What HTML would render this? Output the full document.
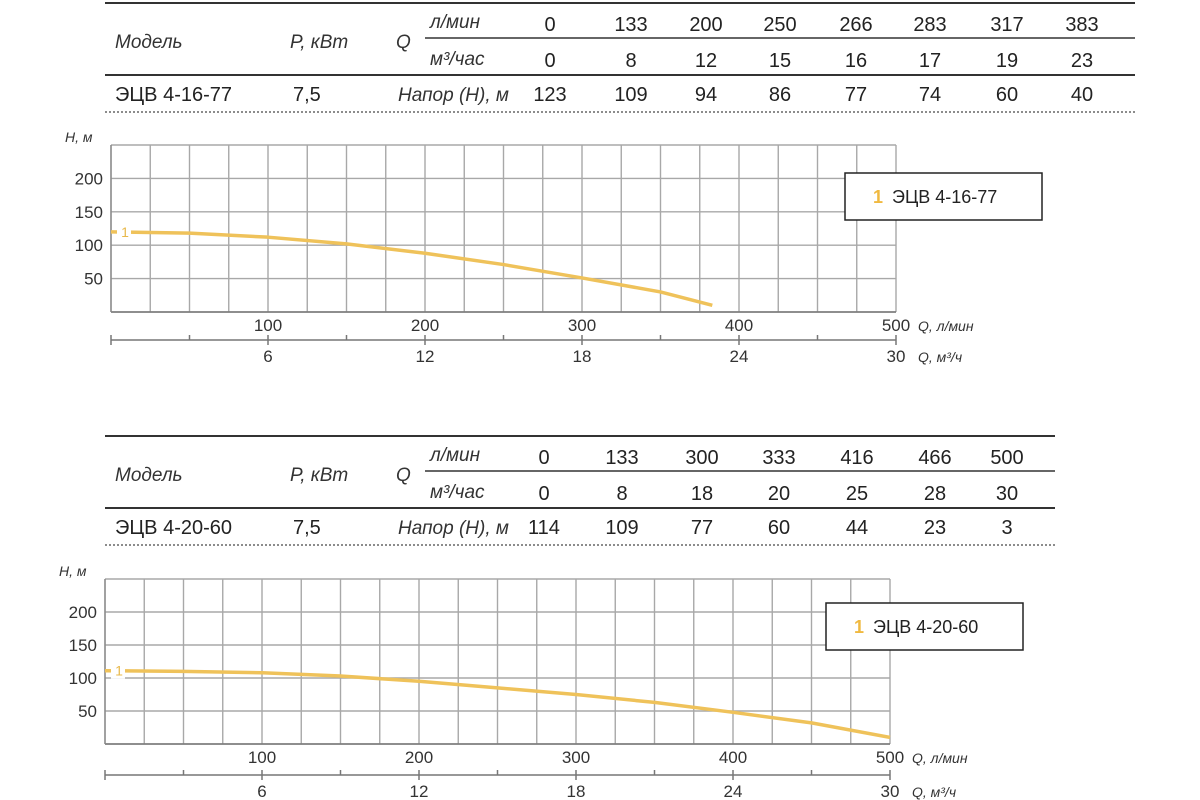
<!DOCTYPE html>
<html><head><meta charset="utf-8"><style>
body{margin:0;width:1200px;height:800px;background:#fff;overflow:hidden;font-family:"Liberation Sans","DejaVu Sans",sans-serif;color:#222}
svg{position:absolute;left:0;top:0}
</style></head><body>
<svg id="s" width="1200" height="800" font-family="Liberation Sans, DejaVu Sans, sans-serif"></svg>
<script>
const t1_lpm=["0","133","200","250","266","283","317","383"];
const t1_m3=["0","8","12","15","16","17","19","23"];
const t1_head=["123","109","94","86","77","74","60","40"];
const t2_lpm=["0","133","300","333","416","466","500"];
const t2_m3=["0","8","18","20","25","28","30"];
const t2_head=["114","109","77","60","44","23","3"];
const c1_q=[0,50,100,150,200,250,300,350,383];
const c1_h=[120,118,112,102,88,71,51,30,10];
const c2_q=[0,50,100,150,200,250,300,350,400,450,500];
const c2_h=[111,110,108,103,95,85,75,63,48,32,10];
const yTicks=[50,100,150,200];
const xLpmTicks=[100,200,300,400,500];
const xM3Ticks=[6,12,18,24,30];
const NS="http://www.w3.org/2000/svg";
const svg=document.getElementById('s');
function el(tag,attrs,parent,txt){const e=document.createElementNS(NS,tag);for(const k in attrs)e.setAttribute(k,attrs[k]);if(txt!==undefined)e.textContent=txt;(parent||svg).appendChild(e);return e;}
function table(y0,lpm,m3,head,xs,right,model,idx){
  const g=el('g',{});
  
  
  el('line',{x1:105,x2:right,y1:y0,y2:y0,stroke:'#333','stroke-width':2},g);
  el('line',{x1:425,x2:right,y1:y0+35,y2:y0+35,stroke:'#333','stroke-width':1.5},g);
  el('line',{x1:105,x2:right,y1:y0+72,y2:y0+72,stroke:'#333','stroke-width':2},g);
  el('line',{x1:105,x2:right,y1:y0+109,y2:y0+109,stroke:'#666','stroke-width':1.5,'stroke-dasharray':'2,2'},g);
  const it={'font-style':'italic','font-size':19,fill:'#333'};
  el('text',Object.assign({x:115,y:y0+45},it),g,'Модель');
  el('text',Object.assign({x:290,y:y0+45},it),g,'P, кВт');
  el('text',Object.assign({x:396,y:y0+45},it),g,'Q');
  el('text',Object.assign({x:430,y:y0+25,'font-size':17},it),g,'л/мин');
  el('text',Object.assign({x:430,y:y0+62,'font-size':17},it),g,'м³/час');
  el('text',{x:115,y:y0+98,'font-size':20,fill:'#222'},g,model);
  el('text',{x:293,y:y0+98,'font-size':20,fill:'#222'},g,'7,5');
  el('text',Object.assign({x:398,y:y0+98,'font-size':18},it),g,'Напор (Н), м');
  for(let i=0;i<lpm.length;i++){
    const a={x:xs[i],'text-anchor':'middle','font-size':20,fill:'#222'};
    el('text',Object.assign({},a,{y:y0+28}),g,lpm[i]);
    el('text',Object.assign({},a,{y:y0+64}),g,m3[i]);
    el('text',Object.assign({},a,{y:y0+98}),g,head[i]);
  }
}
function chart(L,T,B,axisY,qs,hs,legX,legY,model,idx){
  const W=785, R=L+W;
  const X=q=>L+q/500*W, Y=h=>B-h/250*(B-T);
  const g=el('g',{});
  
  
  for(let i=0;i<=20;i++){const x=L+i*W/20;el('line',{x1:x,x2:x,y1:T,y2:B,stroke:'#a8a8a8','stroke-width':1.4},g);}
  for(let h=0;h<=250;h+=50){el('line',{x1:L,x2:R,y1:Y(h),y2:Y(h),stroke:'#a8a8a8','stroke-width':1.4},g);}
  el('line',{x1:L,x2:R,y1:B,y2:B,stroke:'#777','stroke-width':1.6},g);
  el('line',{x1:L,x2:L,y1:T,y2:B,stroke:'#888','stroke-width':1.4},g);
  el('text',{x:L-46,y:T-3,'font-size':14,'font-style':'italic',fill:'#333'},g,'H, м');
  yTicks.forEach(v=>{const t=el('text',{x:L-8,y:Y(v)+6,'text-anchor':'end','font-size':17,fill:'#333'},g,v);
    });
  xLpmTicks.forEach(v=>{el('text',{x:X(v),y:B+19,'text-anchor':'middle','font-size':17,fill:'#333'},g,v);});
  el('line',{x1:L,x2:R,y1:axisY,y2:axisY,stroke:'#777','stroke-width':1.6},g);
  for(let q=0;q<=500;q+=50){el('line',{x1:X(q),x2:X(q),y1:axisY-5,y2:axisY+(q%100==0?5:0),stroke:'#777','stroke-width':1.5},g);}
  xM3Ticks.forEach(v=>{el('text',{x:X(v/30*500),y:axisY+22,'text-anchor':'middle','font-size':17,fill:'#333'},g,v);});
  el('text',{x:R+22,y:B+19,'font-size':14,'font-style':'italic',fill:'#333'},g,'Q, л/мин');
  el('text',{x:R+22,y:axisY+22,'font-size':14,'font-style':'italic',fill:'#333'},g,'Q, м³/ч');
  const d=qs.map((q,i)=>(i?'L':'M')+X(q)+','+Y(hs[i])).join(' ');
  const p=el('path',{d:d,fill:'none',stroke:'#efc25a','stroke-width':3.5,'stroke-linejoin':'round'},g);
  
  el('rect',{x:L+6,y:Y(hs[0])-8,width:14,height:16,fill:'#fff'},g);
  el('text',{x:L+14,y:Y(hs[0])+5,'text-anchor':'middle','font-size':14,fill:'#e8b84a'},g,'1');
  const lg=el('g',{},g);
  
  el('rect',{x:legX,y:legY,width:197,height:47,fill:'#fff',stroke:'#222','stroke-width':1.5},lg);
  el('text',{x:legX+28,y:legY+30,'font-size':18,fill:'#f0b940','font-weight':'bold'},lg,'1');
  el('text',{x:legX+47,y:legY+30,'font-size':18,fill:'#222'},lg,model);
}
table(3,t1_lpm,t1_m3,t1_head,[550,631,706,780,856,930,1007,1082],1135,'ЭЦВ 4-16-77',1);
table(436,t2_lpm,t2_m3,t2_head,[544,622,702,779,857,935,1007],1055,'ЭЦВ 4-20-60',2);
chart(111,145,312,340,c1_q,c1_h,845,173,'ЭЦВ 4-16-77',1);
chart(105,579,744,775,c2_q,c2_h,826,603,'ЭЦВ 4-20-60',2);
</script>
</body></html>
